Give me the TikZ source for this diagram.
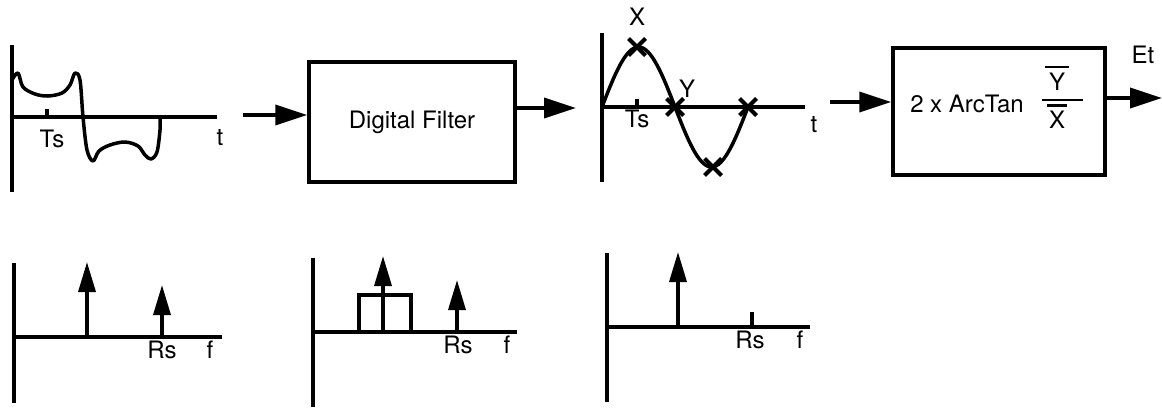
\documentclass[tikz,border=0pt]{standalone}
\usepackage{fontspec}
\setmainfont{TeX Gyre Heros}
\usetikzlibrary{arrows.meta,shapes.misc}
\tikzset{
  flow/.style={-{Triangle[length=32pt,width=20pt]}},
  spike/.style={-{Triangle[length=30pt,width=17pt]}},
  lbl/.style={font=\fontsize{24}{28}\selectfont, inner sep=0pt, anchor=base},
  blockbox/.style={draw, line width=3.5pt, font=\fontsize{24}{28}\selectfont},
  smp/.style={cross out, draw, minimum size=13pt, inner sep=0pt, line width=4pt}
}
\begin{document}
\begin{tikzpicture}[x=1pt,y=-1pt,line width=3.5pt]
  \useasboundingbox (0,0) rectangle (1162,413);

  % input signal
  \draw (12,45) -- (12,192);
  \draw (12,117) -- (217,117);
  \draw (47,117) -- (47,109);
  \node[lbl] (ts1) at (52,147) {Ts};
  \node[lbl] (t1) at (220,145) {t};
  \draw[line join=round] plot[smooth,tension=0.55] coordinates {(12,80) (18,73) (23,87) (35,94) (48,96) (62,93) (70,85) (75,73) (80,80) (83,117) (87,150) (93,161) (99,151) (110,145) (125,142) (138,146) (145,155) (151,159) (157,152) (160,130) (160,117)};

  % filter
  \coordinate (in1) at (243,115);
  \node[blockbox, minimum width=206pt, minimum height=120pt] (filter) at (412,122) {Digital Filter};
  \draw[flow] (in1) -- (in1 -| filter.west);
  \coordinate (out1) at (576,108);
  \draw[flow] (filter.east |- out1) -- (out1);

  % filtered signal
  \draw (602,33) -- (602,182);
  \draw (602,107) -- (805,107);
  \draw (637,107) -- (637,99);
  \draw plot[domain=0:146,samples=80,smooth] ({602+\x},{107-60*sin(\x/146*360)});
  \foreach \n/\px/\py in {s1/637/47, s2/675/107, s3/713/167, s4/748/107}
    \node[smp] (\n) at (\px,\py) {};
  \node[lbl] (labx) at (637,25) {X};
  \node[lbl] (laby) at (687,97) {Y};
  \node[lbl] (ts2) at (637,127) {Ts};
  \node[lbl] (t2) at (814,132) {t};

  % phase detector
  \coordinate (in3) at (830,102);
  \node[blockbox, minimum width=212pt, minimum height=127pt] (arctan) at (999,111.5) {};
  \draw[flow] (in3) -- (in3 -| arctan.west);
  \coordinate (out3) at (1162,98);
  \draw[flow] (arctan.east |- out3) -- (out3);
  \node[lbl] (et) at (1143,63) {Et};
  \node[lbl] (atan) at (967,112) {2 x ArcTan};
  \node[lbl] (fy) at (1057,90) {Y};
  \node[lbl] (fx) at (1057,128) {X};
  \draw[line width=2.5pt] (1045,67) -- (1069,67);
  \draw[line width=2.5pt] (1042,100) -- (1083,100);
  \draw[line width=2.5pt] (1047,105.5) -- (1067,105.5);

  % spectra
  \draw (14,263) -- (14,403);
  \draw (14,337) -- (222,337);
  \draw[spike] (87,337) -- (87,262);
  \draw[spike] (162,337) -- (162,285);
  \node[lbl] (rs1) at (162,358) {Rs};
  \node[lbl] (f1) at (210,358) {f};

  \draw (313,258) -- (313,407);
  \draw (313,332) -- (517,332);
  \draw (359,332) -- (359,295) -- (411,295) -- (411,332);
  \draw[spike] (383,332) -- (383,256);
  \draw[spike] (457,332) -- (457,280);
  \node[lbl] (rs2) at (458,353) {Rs};
  \node[lbl] (f2) at (507,353) {f};

  \draw (607,253) -- (607,402);
  \draw (607,327) -- (810,327);
  \draw[spike] (678,327) -- (678,252);
  \draw (752,327) -- (752,312);
  \node[lbl] (rs3) at (750,348) {Rs};
  \node[lbl] (f3) at (800,348) {f};
\end{tikzpicture}
\end{document}
